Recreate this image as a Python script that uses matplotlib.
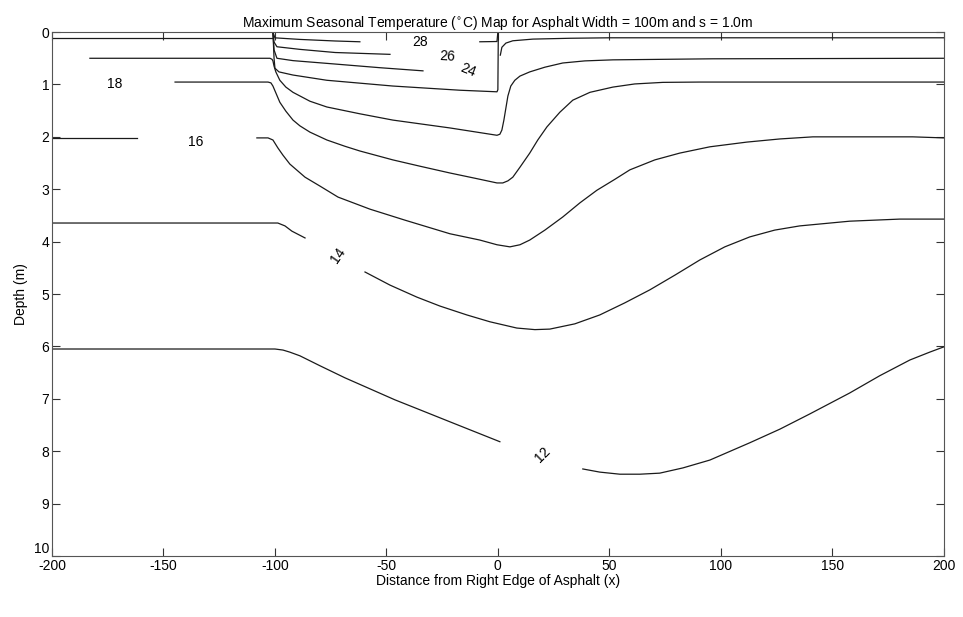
import matplotlib
matplotlib.use("Agg")
import matplotlib.pyplot as plt

plt.rcParams['font.family'] = ['Liberation Sans', 'DejaVu Sans']
plt.rcParams['axes.unicode_minus'] = False

# isotherm traces (x along the surface, depth in m); each level is a list of
# pieces, broken where the inline label sits
t12 = [([-200, -100, -96.4, -93.3, -88.8, -79.8, -68.6, -57.4, -46.2, -35, -21.5, -10.3, 0.9],
        [6.05, 6.05, 6.07, 6.11, 6.18, 6.37, 6.60, 6.81, 7.02, 7.21, 7.44, 7.63, 7.82]),
       ([38.1, 45.7, 54.7, 63.7, 72.6, 83, 95.1, 113, 126.5, 139.9, 157.8, 171.3, 184.8, 193.7, 200],
        [8.34, 8.40, 8.44, 8.44, 8.42, 8.32, 8.17, 7.84, 7.58, 7.29, 6.89, 6.56, 6.26, 6.11, 6.01])]
t14 = [([-200, -98.7, -95.5, -92.4, -86.5],
        [3.645, 3.645, 3.70, 3.80, 3.93]),
       ([-59.6, -48.4, -36.3, -26, -13.9, -3.6, 8.5, 16.6, 23.3, 34.5, 45.7, 56.9, 68.2, 79.4,
         90.6, 101.8, 113, 124.2, 135.4, 157.8, 180.3, 200],
        [4.58, 4.83, 5.06, 5.23, 5.40, 5.53, 5.65, 5.68, 5.67, 5.57, 5.40, 5.17, 4.92, 4.64,
         4.35, 4.10, 3.91, 3.78, 3.70, 3.61, 3.57, 3.57])]
t16 = [([-200, -161.9], [2.02, 2.02]),
       ([-108.1, -103.1, -100.9, -98.7, -96.4, -93.3, -86.5, -79.8, -71.7, -57.4, -41.7, -21.5,
         -8.1, -0.4, 5.4, 9.9, 14.3, 21.1, 29.1, 36.8, 44.4, 52.5, 59.2, 70.4, 81.6, 95.1,
         111.7, 126.5, 141.3, 186.1, 200],
        [2.02, 2.02, 2.06, 2.21, 2.35, 2.52, 2.77, 2.94, 3.15, 3.38, 3.59, 3.85,
         3.97, 4.06, 4.10, 4.06, 3.97, 3.78, 3.53, 3.26, 3.02, 2.81, 2.63, 2.44, 2.31, 2.19,
         2.10, 2.04, 2.00, 2.00, 2.02])]
t18 = [([-144.8, -103.1, -101.8, -100.9, -99.6, -97.8, -95.1, -91.9, -88.8, -84.3, -76.7,
         -68.6, -61.9, -47.1, -35, -21.5, -10.3, -0.4, 2.2, 4.5, 6.7, 9.9, 14.3, 17.9, 22,
         27.8, 33.6, 41.3, 51.6, 61.4, 74, 90.6, 111.7, 200],
        [0.954, 0.954, 0.97, 1.03, 1.16, 1.34, 1.51, 1.68, 1.79, 1.91, 2.06,
         2.18, 2.27, 2.44, 2.56, 2.69, 2.79, 2.88, 2.88, 2.84, 2.77, 2.58, 2.31, 2.06, 1.81,
         1.53, 1.30, 1.15, 1.05, 0.99, 0.96, 0.954, 0.954, 0.954])]
t20 = [([-183, -102.2, -101.3, -100.9, -100.4, -99.6, -97.8, -95.1, -91.9, -84.3, -76.7,
         -61.9, -47.1, -21.5, -0.4, 0.9, 1.8, 2.7, 3.6, 4.5, 5.8, 7.6, 9.9, 14.3, 21.1,
         29.1, 39, 51.6, 96.4, 200],
        [0.50, 0.50, 0.52, 0.55, 0.65, 0.76, 0.92, 1.05, 1.15, 1.32, 1.43,
         1.56, 1.68, 1.83, 1.97, 1.95, 1.87, 1.68, 1.45, 1.22, 1.03, 0.92, 0.84, 0.76, 0.67,
         0.59, 0.55, 0.53, 0.51, 0.50])]
t22 = [([-200, -100.9], [0.11, 0.11]),
       ([-100.9, -100.4, -100, -98.2, -91.9, -76.7, -47.1, -17, -0.4, 0, 0.2],
        [0.0, 0.5, 0.69, 0.76, 0.82, 0.92, 1.03, 1.11, 1.14, 1.10, 0.0]),
       ([1.1, 1.8, 3.6, 6.7, 15.7, 32.3, 50.2, 200],
        [0.44, 0.29, 0.21, 0.166, 0.134, 0.118, 0.109, 0.109])]
t24 = [([-100.9, -100.4, -99.1, -91.9, -73, -52.9, -33.6],
        [0.0, 0.34, 0.50, 0.545, 0.61, 0.68, 0.74])]
t26 = [([-100.9, -100.4, -99.1, -88.8, -73, -48.4],
        [0.0, 0.19, 0.28, 0.33, 0.39, 0.425])]
t28 = [([-100.9, -100, -88.8, -73, -61.9], [0.0, 0.11, 0.14, 0.17, 0.185]),
       ([-8.1, -0.4, 0.0], [0.185, 0.18, 0.0])]

levels = [12, 14, 16, 18, 20, 22, 24, 26, 28]
traces = [t12, t14, t16, t18, t20, t22, t24, t26, t28]

# inline labels: level, x, depth, angle
label_lvl = [28, 26, 24, 18, 16, 14, 12]
label_x = [-35, -22.9, -13.5, -171.7, -135.4, -71.7, 20.2]
label_d = [0.19, 0.47, 0.72, 0.99, 2.10, 4.26, 8.07]
label_rot = [0, -3, -22, 0, 0, 55, 45]

fig = plt.figure(figsize=(9.63, 6.17), dpi=100)
ax = fig.add_axes([0.054, 0.099, 0.926, 0.849])

for lvl, pieces in zip(levels, traces):
    for xs, ds in pieces:
        ax.plot(xs, ds, color='#1a1a1a', lw=0.9)

for lvl, x, d, r in zip(label_lvl, label_x, label_d, label_rot):
    ax.text(x, d, str(lvl), fontsize=10, ha='center', va='center', rotation=r,
            rotation_mode='anchor', color='black')

ax.set_xlim(-200, 200)
ax.set_ylim(10, 0)
ax.set_xticks(range(-200, 201, 50))
ax.set_yticks(range(0, 11))
ax.tick_params(direction='in', length=5.5, width=0.8, top=True, right=True,
               labelsize=10, pad=2, colors='#333333', labelcolor='black')
for sp in ax.spines.values():
    sp.set_color('#555555')
    sp.set_linewidth(0.8)
ylabels = ax.get_yticklabels()
ylabels[-1].set_va('bottom')

ax.set_title("Maximum Seasonal Temperature ($^{\\circ}$C) Map for Asphalt Width = 100m and s = 1.0m",
             fontsize=10, pad=4)
ax.set_xlabel("Distance from Right Edge of Asphalt (x)", fontsize=10, labelpad=1)
ax.set_ylabel("Depth (m)", fontsize=10, labelpad=4)

fig.savefig("out.png", dpi=100)
